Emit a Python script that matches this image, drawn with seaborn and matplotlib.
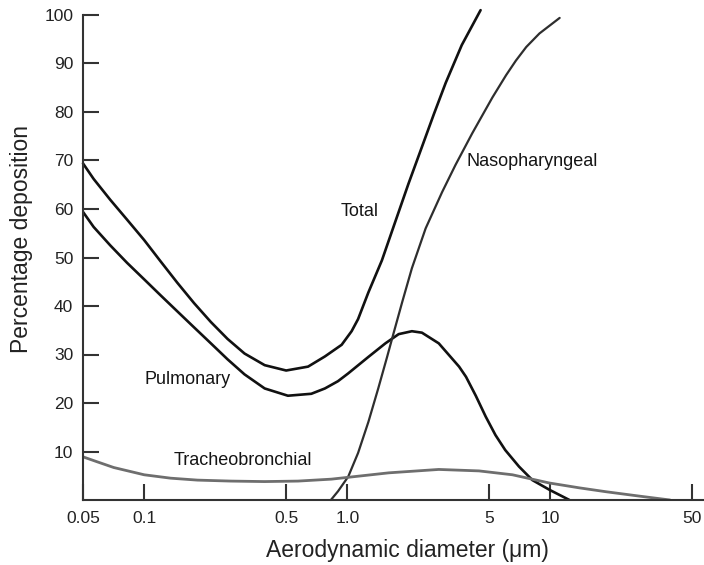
import matplotlib
matplotlib.use("Agg")
import matplotlib.pyplot as plt
from matplotlib import ticker
import seaborn as sns

# values (x = aerodynamic diameter in um, y = % deposition)
total_x = [0.05, 0.0564, 0.0681, 0.0824, 0.1, 0.1205, 0.1456, 0.176, 0.213, 0.2575, 0.312, 0.392,
           0.50, 0.641, 0.776, 0.938, 1.05, 1.13, 1.27, 1.48, 1.72, 2.0, 2.33, 2.67, 3.05, 3.66, 4.53]
total_y = [69.4, 66.2, 61.9, 57.8, 53.6, 49.2, 44.8, 40.6, 36.7, 33.2, 30.2, 27.8,
           26.7, 27.5, 29.6, 32.0, 34.8, 37.3, 42.8, 49.4, 57.3, 65.2, 72.8, 79.6, 86.0, 93.8, 101.0]

pulm_x = [0.05, 0.0564, 0.0681, 0.0824, 0.1, 0.1205, 0.1456, 0.176, 0.213, 0.2575, 0.312, 0.392,
          0.51, 0.665, 0.776, 0.90, 1.01, 1.27, 1.54, 1.79, 2.08, 2.33, 2.82, 3.55, 3.84, 4.29,
          4.8, 5.36, 5.99, 7.0, 8.15, 9.89, 12.4]
pulm_y = [59.4, 56.3, 52.5, 48.9, 45.5, 42.2, 38.9, 35.6, 32.3, 29.0, 25.9, 23.0,
          21.5, 21.9, 23.0, 24.5, 26.1, 29.5, 32.3, 34.2, 34.8, 34.5, 32.3, 27.5, 25.4, 21.5,
          17.2, 13.4, 10.3, 6.9, 4.1, 2.1, 0.0]

naso_x = [0.83, 0.90, 1.01, 1.13, 1.27, 1.42, 1.57, 1.69, 1.86, 2.08, 2.43, 2.93, 3.41, 4.12,
          5.18, 6.05, 6.76, 7.6, 8.83, 11.1]
naso_y = [0.0, 1.8, 4.8, 9.7, 16.1, 23.0, 29.5, 34.4, 40.7, 47.8, 56.0, 63.5, 69.1, 75.6,
          83.0, 87.6, 90.6, 93.4, 96.2, 99.4]

trach_x = [0.05, 0.0585, 0.0708, 0.1, 0.135, 0.183, 0.267, 0.391, 0.572, 0.835, 1.6, 2.82,
           4.45, 6.5, 9.89, 13.9, 18.8, 27.4, 38.8]
trach_y = [8.9, 7.9, 6.7, 5.2, 4.5, 4.1, 3.9, 3.8, 3.9, 4.3, 5.6, 6.3,
           6.0, 5.2, 3.5, 2.5, 1.7, 0.8, 0.0]

x_ticks = [0.05, 0.1, 0.5, 1.0, 5, 10, 50]
x_tick_labels = ["0.05", "0.1", "0.5", "1.0", "5", "10", "50"]
y_ticks = [10, 20, 30, 40, 50, 60, 70, 80, 90, 100]

sns.set_style("ticks")
plt.rcParams["font.family"] = ["Liberation Sans", "DejaVu Sans"]

fig = plt.figure(figsize=(7.04, 5.65), dpi=100)
ax = fig.add_axes([83 / 704, 65 / 565, 621 / 704, 485 / 565])

dark = "#111111"
line_kw = dict(estimator=None, sort=False, solid_joinstyle="round", solid_capstyle="round")
sns.lineplot(x=total_x, y=total_y, ax=ax, color=dark, lw=1.9, clip_on=False, **line_kw)
sns.lineplot(x=pulm_x, y=pulm_y, ax=ax, color=dark, lw=1.9, **line_kw)
sns.lineplot(x=naso_x, y=naso_y, ax=ax, color="#2e2e2e", lw=1.6, clip_on=False, **line_kw)
sns.lineplot(x=trach_x, y=trach_y, ax=ax, color="#6e6e6e", lw=2.0, **line_kw)

ax.set_xscale("log")
ax.set_xlim(0.05, 57)
ax.set_ylim(0, 100)
ax.set_xticks(x_ticks)
ax.set_xticklabels(x_tick_labels)
ax.xaxis.set_minor_locator(ticker.NullLocator())
ax.set_yticks(y_ticks)

for side in ["top", "right"]:
    ax.spines[side].set_visible(False)
for side in ["left", "bottom"]:
    ax.spines[side].set_color("#333333")
    ax.spines[side].set_linewidth(1.5)

ax.tick_params(axis="both", direction="in", length=11.5, width=1.5, color="#333333",
               labelsize=12.5, labelcolor="#222222")
ax.tick_params(axis="x", pad=8)
ax.tick_params(axis="y", pad=7)

ax.set_xlabel("Aerodynamic diameter (\u03bcm)", fontsize=16.5, color="#222222")
ax.set_ylabel("Percentage deposition", fontsize=16.5, color="#222222")
ax.xaxis.set_label_coords(0.522, -0.08)
ax.yaxis.set_label_coords(-0.08, 0.539)

lab = dict(fontsize=13, color="#151515", ha="center", va="center")
ax.text(0.164, 24.9, "Pulmonary", **lab)
ax.text(0.306, 8.2, "Tracheobronchial", **lab)
ax.text(1.146, 59.4, "Total", **lab)
ax.text(8.15, 69.7, "Nasopharyngeal", **lab)

fig.savefig("out.png", dpi=100)
